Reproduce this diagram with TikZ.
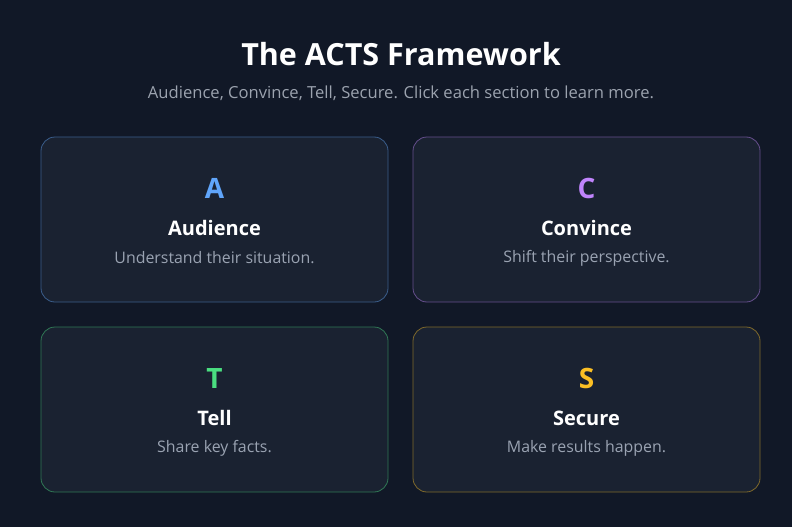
\documentclass[tikz,border=0pt]{standalone}
\usepackage{fontspec}
\setmainfont{Open Sans}
\usepackage{tikz}
\definecolor{bgdark}{HTML}{111827}
\definecolor{cardfill}{HTML}{1A2231}
\definecolor{subgray}{HTML}{9CA3AF}
\definecolor{descgray}{HTML}{9AA3B2}
\definecolor{ablue}{HTML}{60A5FA}
\definecolor{cpurple}{HTML}{C084FC}
\definecolor{tgreen}{HTML}{4ADE80}
\definecolor{syellow}{HTML}{FBBF24}
\tikzset{card/.style={draw=#1!45!cardfill, fill=cardfill, line width=0.8pt, rounded corners=14pt,
      minimum width=347pt, minimum height=165pt, inner sep=0pt}}
\tikzset{letter/.style={text=#1, font=\fontsize{28}{32}\selectfont\bfseries}}
\tikzset{heading/.style={text=white, font=\fontsize{20}{24}\selectfont\bfseries}}
\tikzset{desc/.style={text=descgray, font=\fontsize{15.9}{19}\selectfont}}

\begin{document}
\begin{tikzpicture}[x=1pt, y=-1pt]
    \fill[bgdark] (0,0) rectangle (792,527);
    \useasboundingbox (0,0) rectangle (792,527);
    \node[text=white, font=\fontsize{30.5}{36}\selectfont\bfseries] (title) at (401,54.5) {The ACTS Framework};
    \node[text=subgray, font=\fontsize{16.6}{20}\selectfont] (subtitle) at (401,93) {Audience, Convince, Tell, Secure. Click each section to learn more.};
    \node[card=ablue] (cardA) at (214.5,219.5) {};
    \node[card=cpurple] (cardC) at (586.5,219.5) {};
    \node[card=tgreen] (cardT) at (214.5,409.5) {};
    \node[card=syellow] (cardS) at (586.5,409.5) {};
    \node[letter=ablue, yshift=31pt] (letA) at (cardA.center) {A};
    \node[heading, yshift=-8.5pt] (headA) at (cardA.center) {Audience};
    \node[desc, yshift=-38.5pt] (descA) at (cardA.center) {Understand their situation.};
    \node[letter=cpurple, yshift=31pt] (letC) at (cardC.center) {C};
    \node[heading, yshift=-8.5pt] (headC) at (cardC.center) {Convince};
    \node[desc, yshift=-38.5pt] (descC) at (cardC.center) {Shift their perspective.};
    \node[letter=tgreen, yshift=31pt] (letT) at (cardT.center) {T};
    \node[heading, yshift=-8.5pt] (headT) at (cardT.center) {Tell};
    \node[desc, yshift=-38.5pt] (descT) at (cardT.center) {Share key facts.};
    \node[letter=syellow, yshift=31pt] (letS) at (cardS.center) {S};
    \node[heading, yshift=-8.5pt] (headS) at (cardS.center) {Secure};
    \node[desc, yshift=-38.5pt] (descS) at (cardS.center) {Make results happen.};
  \end{tikzpicture}
\end{document}
